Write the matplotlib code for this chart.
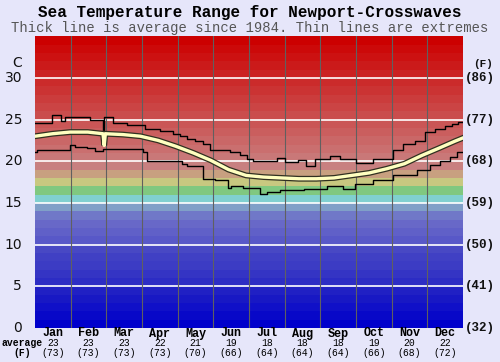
import matplotlib.pyplot as plt
import numpy as np

# Chart values.
months = ["Jan", "Feb", "Mar", "Apr", "May", "Jun",
          "Jul", "Aug", "Sep", "Oct", "Nov", "Dec"]
month_avg_c = [23, 23, 23, 22, 21, 19, 18, 18, 18, 19, 20, 22]
month_avg_f = [73, 73, 73, 73, 70, 66, 64, 64, 64, 66, 68, 72]

c_ticks = [0, 5, 10, 15, 20, 25, 30]
f_ticks = [32, 41, 50, 59, 68, 77, 86]

avg_day = [0, 15, 30, 45, 58, 59, 60, 75, 90, 105, 120, 135, 150, 165, 180,
           195, 210, 225, 240, 255, 270, 285, 300, 315, 330, 345, 358, 365]
avg_temp = [23.0, 23.3, 23.5, 23.5, 23.3, 21.9, 23.3, 23.2, 23.0, 22.5, 21.8,
            21.0, 20.1, 19.0, 18.3, 18.1, 18.0, 17.9, 17.9, 18.0, 18.3, 18.6,
            19.1, 19.7, 20.7, 21.6, 22.4, 22.8]

max_day = [0, 14.5, 22, 26, 47, 58, 59, 66.5, 78.5, 94, 107, 118, 124, 130,
           136.5, 143, 149, 166, 175, 181, 186, 206, 213, 224, 231, 239, 252,
           260, 274, 288, 305, 314, 324, 333, 341, 350, 356, 361, 365]
max_temp = [24.6, 25.5, 24.8, 25.3, 25.0, 23.7, 25.3, 24.6, 24.3, 23.9, 23.6,
            23.3, 23.0, 22.7, 22.4, 22.1, 21.3, 21.1, 20.7, 20.3, 20.0, 20.4,
            19.9, 20.1, 19.4, 20.3, 20.6, 20.3, 19.8, 20.3, 21.3, 22.1, 22.4,
            23.5, 23.9, 24.2, 24.5, 24.7, 24.7]

min_day = [0, 1.7, 12.8, 30, 34, 44, 51, 58, 92, 95.5, 125, 130, 143, 153.5,
           165, 167, 177, 192, 198, 209, 229, 249, 263, 273, 288, 305, 326,
           337, 345.5, 354, 360, 365]
min_temp = [21.1, 21.4, 21.3, 22.0, 21.7, 21.6, 21.2, 21.5, 21.1, 20.0, 19.7,
            19.4, 17.9, 17.8, 16.8, 17.0, 16.8, 16.1, 16.3, 16.5, 16.7, 17.0,
            16.7, 17.3, 17.7, 18.3, 18.9, 19.5, 20.0, 20.5, 21.1, 21.1]

# one colour band per degree, 0..35 C
blues = ["#0000cc", "#0808c8", "#1010c8", "#1818c4", "#2020c4",
         "#2c2cc4", "#3434c4", "#3c3cc4", "#4040c4", "#4848c4",
         "#5858c8", "#6060c8", "#6868c8", "#7078c8", "#80a0c8"]
mids = ["#80d0d0", "#80c880", "#c8c880", "#c8a080", "#c88080"]
reds = []
for i in range(15):
    f = i / 14
    reds.append((0.79 + 0.01 * f, 0.47 * (1 - f), 0.47 * (1 - f)))
band_colors = blues + mids + reds

bg = "#e6e6fa"
fig = plt.figure(figsize=(5, 3.62), dpi=100, facecolor=bg)
ax = fig.add_axes([0.07, 0.094, 0.856, 0.806])

for t, col in enumerate(band_colors):
    ax.axhspan(t, t + 1, color=col, lw=0, zorder=0)
for t in c_ticks[1:]:
    ax.axhline(t, color="white", lw=1.2, zorder=1)
for b in range(1, 12):
    ax.axvline(b * 365 / 12, color="#606060", lw=0.8, zorder=1)

ax.step(max_day, max_temp, where="post", color="black", lw=1.0, zorder=3)
ax.step(min_day, min_temp, where="post", color="black", lw=1.0, zorder=3)
ax.plot(avg_day, avg_temp, color="#303020", lw=4.2, zorder=4,
        solid_joinstyle="miter")
ax.plot(avg_day, avg_temp, color="#ffffc0", lw=2.4, zorder=5)

ax.set_xlim(0, 365)
ax.set_ylim(0, 35)
ax.set_xticks([])
ax.set_yticks([])
for s in ax.spines.values():
    s.set_visible(False)

mono = "Liberation Mono"
for t, f in zip(c_ticks, f_ticks):
    ax.text(-13 * 365 / 428, t, str(t), ha="right", va="center",
            fontsize=10, color="#111111", family="DejaVu Sans")
    ax.text(365 + 2 * 365 / 428, t, f"({f})", ha="left", va="center",
            fontsize=9, weight="bold", family=mono, color="#111111")
ax.text(-13 * 365 / 428, 31.8, "C", ha="right", va="center",
        fontsize=10, color="#111111", family="DejaVu Sans")
ax.text(365 + 10 * 365 / 428, 31.7, "(F)", ha="left", va="center",
        fontsize=8, weight="bold", family=mono, color="#111111")

for i, (m, c, f) in enumerate(zip(months, month_avg_c, month_avg_f)):
    x = (i + 0.5) / 12
    fig.text(0.07 + 0.856 * x, 1 - 333.5 / 362, m, ha="center", va="center",
             fontsize=8.5, weight="bold", family=mono)
    fig.text(0.07 + 0.856 * x, 1 - 343 / 362, str(c), ha="center", va="center",
             fontsize=7, family=mono)
    fig.text(0.07 + 0.856 * x, 1 - 352.5 / 362, f"({f})", ha="center",
             va="center", fontsize=7, family=mono)
fig.text(22 / 500, 1 - 343 / 362, "average", ha="center", va="center",
         fontsize=7, weight="bold", family=mono)
fig.text(22 / 500, 1 - 352.5 / 362, "(F)", ha="center", va="center",
         fontsize=7, weight="bold", family=mono)

fig.text(0.5, 1 - 13 / 362, "Sea Temperature Range for Newport-Crosswaves",
         ha="center", va="center", fontsize=11.5, weight="bold", family=mono)
fig.text(0.5, 1 - 28 / 362,
         "Thick line is average since 1984. Thin lines are extremes",
         ha="center", va="center", fontsize=10, color="#555555", family=mono)

fig.savefig("out.png", dpi=100, facecolor=bg)
